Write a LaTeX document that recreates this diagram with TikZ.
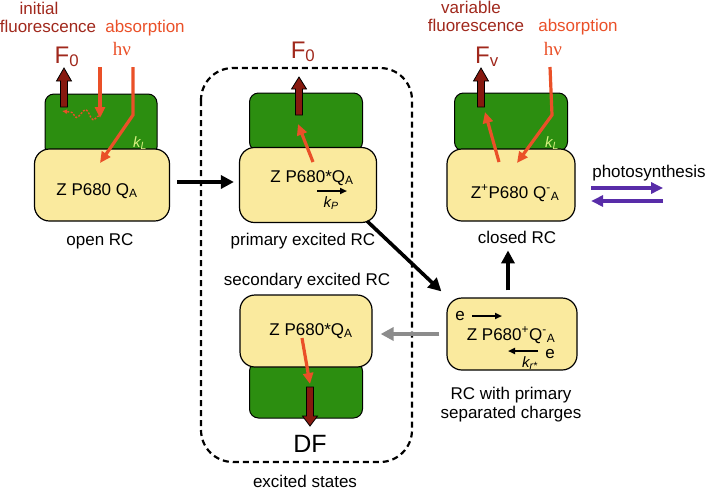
\documentclass[tikz,border=0pt]{standalone}
\usepackage{fontspec}
\setmainfont{Liberation Sans}
\newfontfamily\hvfont{Liberation Serif}
\usetikzlibrary{arrows.meta,calc,decorations.pathmorphing}

\definecolor{leafgreen}{RGB}{44,142,16}
\definecolor{rcyellow}{RGB}{250,234,158}
\definecolor{fluofill}{RGB}{135,25,15}
\definecolor{fluotext}{RGB}{160,40,28}
\definecolor{absred}{RGB}{234,80,40}
\definecolor{klgreen}{RGB}{214,240,128}
\definecolor{photoviolet}{RGB}{88,44,168}
\definecolor{backgrey}{RGB}{140,140,140}

\tikzset{
  leaf/.style={draw=black,fill=leafgreen,line width=1pt,rounded corners=9pt,inner sep=0pt},
  rc/.style={draw=black,fill=rcyellow,line width=1.2pt,rounded corners=15pt,inner sep=0pt},
  lbl/.style={font=\fontsize{17}{19}\selectfont,inner sep=0pt,anchor=base},
  hv/.style={font=\hvfont\fontsize{19}{21}\selectfont,text=absred,inner sep=0pt,anchor=base},
  bigF/.style={font=\fontsize{24}{26}\selectfont,text=fluotext,inner sep=0pt,anchor=base},
  klabel/.style={font=\fontsize{15}{17}\selectfont\itshape,text=klgreen,inner sep=0pt,anchor=base},
  krate/.style={font=\fontsize{15}{17}\selectfont\itshape,inner sep=0pt,anchor=base},
  fluo/.style={draw=black,fill=fluofill,line width=0.8pt},
  absorb/.style={draw=absred,line width=3.2pt,-{Triangle[length=11pt,width=10pt]}},
  flow/.style={line width=3.6pt,-{Triangle[length=13pt,width=13pt]}},
  rate/.style={line width=1.8pt,-{Triangle[length=7pt,width=6pt]}},
  photo/.style={draw=photoviolet,line width=3.4pt,-{Triangle[length=12pt,width=11pt]}},
}

% x, tail, neck, tip
\newcommand\fluoarrow[4]{%
  \filldraw[fluo] (#1-3.5,#2) -- (#1-3.5,#3) -- (#1-7.5,#3) -- (#1,#4)
    -- (#1+7.5,#3) -- (#1+3.5,#3) -- (#1+3.5,#2) -- cycle;}

\begin{document}
\begin{tikzpicture}[x=1pt,y=-1pt]
  \useasboundingbox (0,0) rectangle (708,491);

  % excited states
  \draw[line width=2.2pt,dash pattern=on 6pt off 4pt,rounded corners=32pt] (201,68) rectangle (412,462);

  % open RC
  \node[leaf,minimum width=112,minimum height=62] (openleaf) at (101,125) {};
  \node[rc,minimum width=135,minimum height=72] (open) at (102,185) {};
  \node[lbl] (opentxt) at (97,195) {Z P680 Q\textsubscript{A}};
  \node[lbl] (openlbl) at (100,245) {open RC};
  \node[lbl,text=fluotext] (initlbl) at (39,14) {initial};
  \node[lbl,text=fluotext] (initfluo) at (48,32) {fluorescence};
  \node[lbl,text=absred] (openabs) at (145,32) {absorption};
  \node[hv] (openhv) at (122,55) {hν};
  \node[bigF] (openF) at (67,63) {F\textsubscript{0}};
  \fluoarrow{64}{107}{81}{68}
  \draw[absorb] (100,67) -- (100,118);
  \draw[absorb] (133,67) -- (133,115) -- (100,163);
  \draw[absred,line width=1.4pt,dash pattern=on 2pt off 1.5pt,decorate,
    decoration={snake,amplitude=4.5pt,segment length=17pt,post length=4pt},
    -{Latex[length=5pt,width=5pt]}] (99,116) -- (62,111);
  \node[klabel] (openkL) at (140,147) {k\textsubscript{L}};

  % primary excited RC
  \node[leaf,minimum width=113,minimum height=58] (primleaf) at (306,122) {};
  \node[rc,minimum width=137,minimum height=75] (prim) at (308,185) {};
  \node[lbl] (primtxt) at (312,182) {Z P680*Q\textsubscript{A}};
  \draw[rate] (317,191) -- (347,191);
  \node[krate] (primkP) at (331,207) {k\textsubscript{P}};
  \node[lbl] (primlbl) at (303,245) {primary excited RC};
  \node[bigF] (primF) at (303,58) {F\textsubscript{0}};
  \fluoarrow{299}{115}{89}{77}
  \draw[absorb] (313,162) -- (298,124);

  % closed RC
  \node[leaf,minimum width=113,minimum height=58] (closedleaf) at (511,122) {};
  \node[rc,minimum width=128,minimum height=72] (closed) at (511,185) {};
  \node[lbl] (closedtxt) at (515,198) {Z\textsuperscript{+}P680 Q\textsuperscript{-}\textsubscript{A}};
  \node[lbl] (closedlbl) at (517,243) {closed RC};
  \node[lbl,text=fluotext] (varlbl) at (471,13) {variable};
  \node[lbl,text=fluotext] (varfluo) at (476,31) {fluorescence};
  \node[lbl,text=absred] (closedabs) at (578,31) {absorption};
  \node[hv] (closedhv) at (553,55) {hν};
  \node[bigF] (closedF) at (487,63) {F\textsubscript{v}};
  \fluoarrow{481}{107}{81}{68}
  \draw[absorb] (499,162) -- (485,112);
  \draw[absorb] (550,67) -- (552,115) -- (517,163);
  \node[klabel] (closedkL) at (552,147) {k\textsubscript{L}};

  % photosynthesis
  \node[lbl] (phot) at (649,177) {photosynthesis};
  \draw[photo] ([shift={(-1,11)}]phot.base west) -- ++(72,0);
  \draw[photo] ([shift={(71,24)}]phot.base west) -- ++(-72,0);

  % secondary excited RC
  \node[leaf,minimum width=113,minimum height=56] (secleaf) at (306,390) {};
  \node[rc,minimum width=132,minimum height=72] (sec) at (306,331) {};
  \node[lbl] (sectxt) at (311,335) {Z P680*Q\textsubscript{A}};
  \node[lbl] (seclbl) at (307,285) {secondary excited RC};
  \draw[absorb] (302,338) -- (310,384);
  \fluoarrow{310}{387}{416}{426}
  \node[lbl,font=\fontsize{25}{27}\selectfont] (df) at (310,452) {DF};
  \node[lbl] (exclbl) at (305,487) {excited states};

  % RC with separated charges
  \node[rc,minimum width=130,minimum height=72] (sep) at (512,334) {};
  \node[lbl] (eout) at (460,320) {e};
  \draw[rate] (472,316) -- (502,316);
  \node[lbl] (septxt) at (511,340) {Z P680\textsuperscript{+}Q\textsuperscript{-}\textsubscript{A}};
  \draw[rate] (538,351) -- (508,351);
  \node[lbl] (eback) at (550,358) {e};
  \node[krate] (sepkr) at (530,367) {k\textsubscript{r*}};
  \node[lbl] (seplbl1) at (511,399) {RC with primary};
  \node[lbl] (seplbl2) at (511,418) {separated charges};

  % transitions
  \draw[flow] ([shift={(7,-3)}]open.east) -- ([shift={(-5,-3)}]prim.west);
  \draw[flow] ([shift={(-10,-2)}]prim.south east) -- ([shift={(-5,-6)}]sep.north west);
  \draw[flow] ([shift={(-4,-7)}]sep.north) -- ([shift={(-4,-47)}]sep.north);
  \draw[flow,backgrey] ([xshift=-7]sep.west) -- ($(sep.west -| sec.east)+(8,0)$);
\end{tikzpicture}
\end{document}
